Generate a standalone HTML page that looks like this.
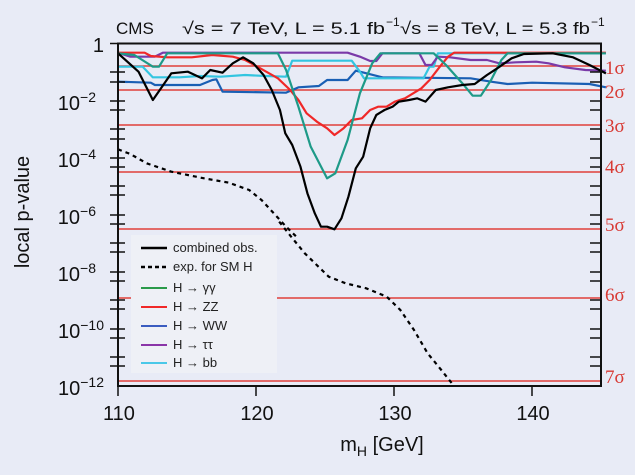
<!DOCTYPE html>
<html><head><meta charset="utf-8"><style>
body{margin:0;background:#e8ebf6;}
svg{display:block;font-family:"Liberation Sans",sans-serif;}
</style></head><body>
<svg width="635" height="475" viewBox="0 0 635 475" xmlns="http://www.w3.org/2000/svg">
<rect width="635" height="475" fill="#e8ebf6"/>
<rect x="131" y="235" width="146" height="138" fill="#eef0f6"/>
<g stroke="#e0403a" stroke-width="1.5">
<line x1="118" x2="601" y1="66" y2="66"/>
<line x1="118" x2="601" y1="90" y2="90"/>
<line x1="118" x2="601" y1="125" y2="125"/>
<line x1="118" x2="601" y1="172" y2="172"/>
<line x1="118" x2="601" y1="229" y2="229"/>
<line x1="118" x2="131" y1="298" y2="298"/><line x1="277" x2="601" y1="298" y2="298"/>
<line x1="118" x2="601" y1="381" y2="381"/>
</g>
<g fill="#d83a34" font-family="Liberation Serif,serif" font-size="19">
<text x="605" y="74">1σ</text><text x="605" y="98">2σ</text><text x="605" y="132">3σ</text>
<text x="605" y="173">4σ</text><text x="605" y="231">5σ</text><text x="605" y="301">6σ</text><text x="605" y="383">7σ</text>
</g>
<g transform="matrix(0.41 0 0 0.33333 -0.9 0)" fill="none" stroke-width="2.2" stroke-linejoin="round">
<polyline vector-effect="non-scaling-stroke" stroke="#1a5fb4" points="290,245 370,248 380,255 490,255 520,240 530,238 545,275 700,278 730,262 780,258 800,240 850,240 870,212 890,218 935,232 1150,235 1200,245 1240,252 1300,248 1440,252 1480,262"/>
<polyline vector-effect="non-scaling-stroke" stroke="#33c5e0" points="290,200 350,200 375,232 440,232 490,228 540,230 600,225 650,228 700,230 715,182 860,182 880,215 890,235 1035,235 1050,200 1060,200 1070,160 1480,160"/>
<polyline vector-effect="non-scaling-stroke" stroke="#7a3aa8" points="290,158 320,170 380,170 400,158 850,158 880,170 905,183 920,183 935,160 1025,160 1040,195 1055,195 1070,170 1100,172 1150,180 1190,180 1220,190 1260,187 1310,185 1340,190 1380,202 1430,210 1480,212"/>
<polyline vector-effect="non-scaling-stroke" stroke="#f02828" points="290,158 355,158 370,168 410,172 470,172 520,165 570,170 600,180 630,200 680,235 710,270 730,300 750,340 775,365 800,385 818,405 840,385 860,360 885,355 905,330 925,320 945,320 965,305 990,295 1010,280 1030,265 1050,240 1075,200 1095,170 1110,158 1480,158"/>
<polyline vector-effect="non-scaling-stroke" stroke="#1e9a88" points="290,160 330,165 375,200 390,200 410,160 680,160 700,210 730,320 760,440 800,535 820,520 850,420 880,280 910,190 930,160 1060,160 1090,195 1130,250 1155,287 1175,287 1200,240 1225,180 1240,160 1480,160"/>
<polyline vector-effect="non-scaling-stroke" stroke="#000" points="290,160 340,215 375,300 420,220 460,215 495,235 515,210 545,218 570,190 595,172 620,190 645,225 665,270 685,330 698,400 715,435 735,500 752,580 770,640 785,680 800,680 818,688 835,655 852,590 870,505 888,470 905,385 920,345 940,330 960,320 975,305 1000,300 1020,295 1040,305 1065,270 1095,262 1130,255 1160,252 1190,225 1215,205 1250,175 1280,162 1350,160 1400,172 1440,195 1480,220"/>
<polyline vector-effect="non-scaling-stroke" stroke="#000" stroke-dasharray="4,4" points="290,448 320,462 360,490 420,515 500,535 560,548 610,570 640,600 670,640 700,680 725,710"/>
</g>
<polyline transform="matrix(0.3413 0 0 0.33333 100 220)" vector-effect="non-scaling-stroke" fill="none" stroke="#000" stroke-width="2.2" stroke-dasharray="4,4" points="525,5 560,50 600,100 640,140 670,170 720,190 780,205 840,230 880,270 920,330 960,400 1000,450 1035,495"/>
<rect x="118" y="43.5" width="483" height="342.5" fill="none" stroke="#111" stroke-width="2"/>
<g stroke="#111" stroke-width="1.5">
<path d="M110 43.5h15M110 72h15M110 82h15M110 101h15M110 110h15M110 129h15M110 139h15M110 158h15M110 167h15M110 186h15M110 195h15M110 215h15M110 224h15M110 243h15M110 252h15M110 272h15M110 281h15M110 300h15M110 309h15M110 329h15M110 338h15M110 357h15M110 366h15"/>
<path d="M590 72h11M590 82h11M590 101h11M590 110h11M590 129h11M590 139h11M590 158h11M590 167h11M590 186h11M590 195h11M590 215h11M590 224h11M590 243h11M590 252h11M590 272h11M590 281h11M590 300h11M590 309h11M590 329h11M590 338h11M590 357h11M590 366h11"/>
<path d="M118 386v10M256 386v10M394 386v10M532 386v10"/>
</g>
<g stroke-width="2.5">
<line x1="141" x2="167" y1="248" y2="248" stroke="#000"/>
<line x1="141" x2="167" y1="267" y2="267" stroke="#000" stroke-dasharray="4,3"/>
<line x1="141" x2="167" y1="288" y2="288" stroke="#2a9a4a" stroke-width="2"/>
<line x1="141" x2="167" y1="307" y2="307" stroke="#f02828" stroke-width="2"/>
<line x1="141" x2="167" y1="326" y2="326" stroke="#3a5cc0" stroke-width="2"/>
<line x1="141" x2="167" y1="345" y2="345" stroke="#8a35a8" stroke-width="2"/>
<line x1="141" x2="167" y1="363" y2="363" stroke="#4ac8e8" stroke-width="2"/>
</g>
<g font-size="13" fill="#222">
<text x="173" y="252">combined  obs.</text>
<text x="173" y="271">exp. for SM H</text>
<text x="173" y="292">H → γγ</text>
<text x="173" y="311">H → ZZ</text>
<text x="173" y="330">H → WW</text>
<text x="173" y="349">H → ττ</text>
<text x="173" y="367">H → bb</text>
</g>
<g font-size="20" fill="#111" text-anchor="end">
<text x="104" y="52">1</text>
<text x="96" y="110">10<tspan font-size="14" dy="-8">−2</tspan></text>
<text x="96" y="167">10<tspan font-size="14" dy="-8">−4</tspan></text>
<text x="96" y="224">10<tspan font-size="14" dy="-8">−6</tspan></text>
<text x="96" y="281">10<tspan font-size="14" dy="-8">−8</tspan></text>
<text x="104" y="338">10<tspan font-size="14" dy="-8">−10</tspan></text>
<text x="104" y="395">10<tspan font-size="14" dy="-8">−12</tspan></text>
</g>
<g font-size="20" fill="#111" text-anchor="middle">
<text x="119" y="420">110</text><text x="257" y="420">120</text><text x="395" y="420">130</text><text x="533" y="420">140</text>
<text x="382" y="451">m<tspan font-size="14" dy="5">H</tspan><tspan dy="-5"> [GeV]</tspan></text>
</g>
<text transform="translate(29 212) rotate(-90)" font-size="20" fill="#111" text-anchor="middle">local p-value</text>
<g font-size="17" fill="#111">
<text x="116" y="34">CMS</text>
<text x="182" y="34" textLength="203" lengthAdjust="spacingAndGlyphs">√s = 7 TeV, L = 5.1 fb</text>
<text x="386" y="26" font-size="12">−1</text>
<text x="400" y="34" textLength="190" lengthAdjust="spacingAndGlyphs">√s = 8 TeV, L = 5.3 fb</text>
<text x="591" y="26" font-size="12">−1</text>
</g>
</svg>
</body></html>
